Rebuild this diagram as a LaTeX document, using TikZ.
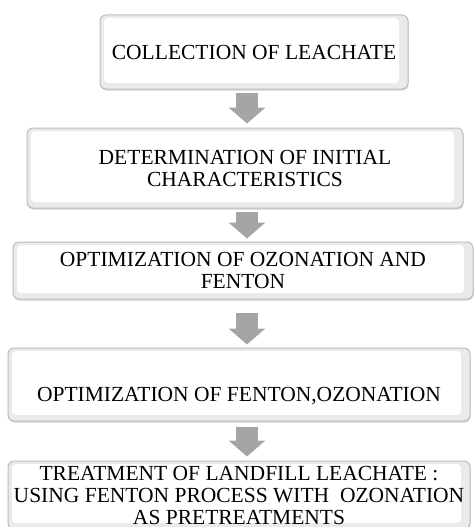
\documentclass[tikz,border=0pt]{standalone}
\usepackage{fontspec}
\setmainfont{Liberation Serif}
\usetikzlibrary{positioning, arrows.meta, shadows, calc}
\definecolor{boxedge}{RGB}{190,190,190}
\definecolor{bevel}{RGB}{234,234,234}
\definecolor{arrowgray}{RGB}{165,165,165}

\begin{document}
\begin{tikzpicture}[
  x=1pt, y=-1pt,
  box/.style={draw=boxedge, fill=bevel, rounded corners=6pt, line width=1pt, align=center, inner sep=0pt,
    font=\fontsize{21.5}{22}\selectfont,
    drop shadow={shadow xshift=0.5pt, shadow yshift=-1.5pt, opacity=0.35},
    path picture={\fill[white, rounded corners=4pt] ([shift={(4pt,-3pt)}]path picture bounding box.north west) rectangle ([shift={(-9pt,6pt)}]path picture bounding box.south east);}},
  down/.style={-{Triangle[length=16pt, width=36pt]}, line width=22pt, draw=arrowgray}
]
\useasboundingbox (0,0) rectangle (476,527);
\coordinate (axis) at (247,0);

\node[box, minimum width=308pt, minimum height=74pt] (collect) at (254,52) {COLLECTION OF LEACHATE};
\node[box, minimum width=436pt, minimum height=80pt, below=38pt of collect, xshift=-9pt] (initial) {DETERMINATION OF INITIAL\\CHARACTERISTICS};
\node[box, minimum width=460pt, minimum height=57pt, below=33pt of initial, xshift=-2pt] (ozofen) {OPTIMIZATION OF OZONATION AND\\FENTON};
\node[box, minimum width=462pt, minimum height=73pt, below=48pt of ozofen, xshift=-4pt, text height=36pt, text depth=3pt] (fenozo) {OPTIMIZATION OF FENTON,OZONATION};
\node[box, minimum width=462pt, minimum height=68pt, below=39pt of fenozo] (treat) {TREATMENT OF LANDFILL LEACHATE :\\USING FENTON PROCESS WITH\ \ OZONATION\\AS PRETREATMENTS};

\draw[down, shorten <=3pt, shorten >=4pt] (collect.south -| axis) -- (initial.north -| axis);
\draw[down, shorten <=3pt, shorten >=3pt] (initial.south -| axis) -- (ozofen.north -| axis);
\draw[down, shorten <=13pt, shorten >=3pt] (ozofen.south -| axis) -- (fenozo.north -| axis);
\draw[down, shorten <=5pt, shorten >=4pt] (fenozo.south -| axis) -- (treat.north -| axis);
\end{tikzpicture}
\end{document}
